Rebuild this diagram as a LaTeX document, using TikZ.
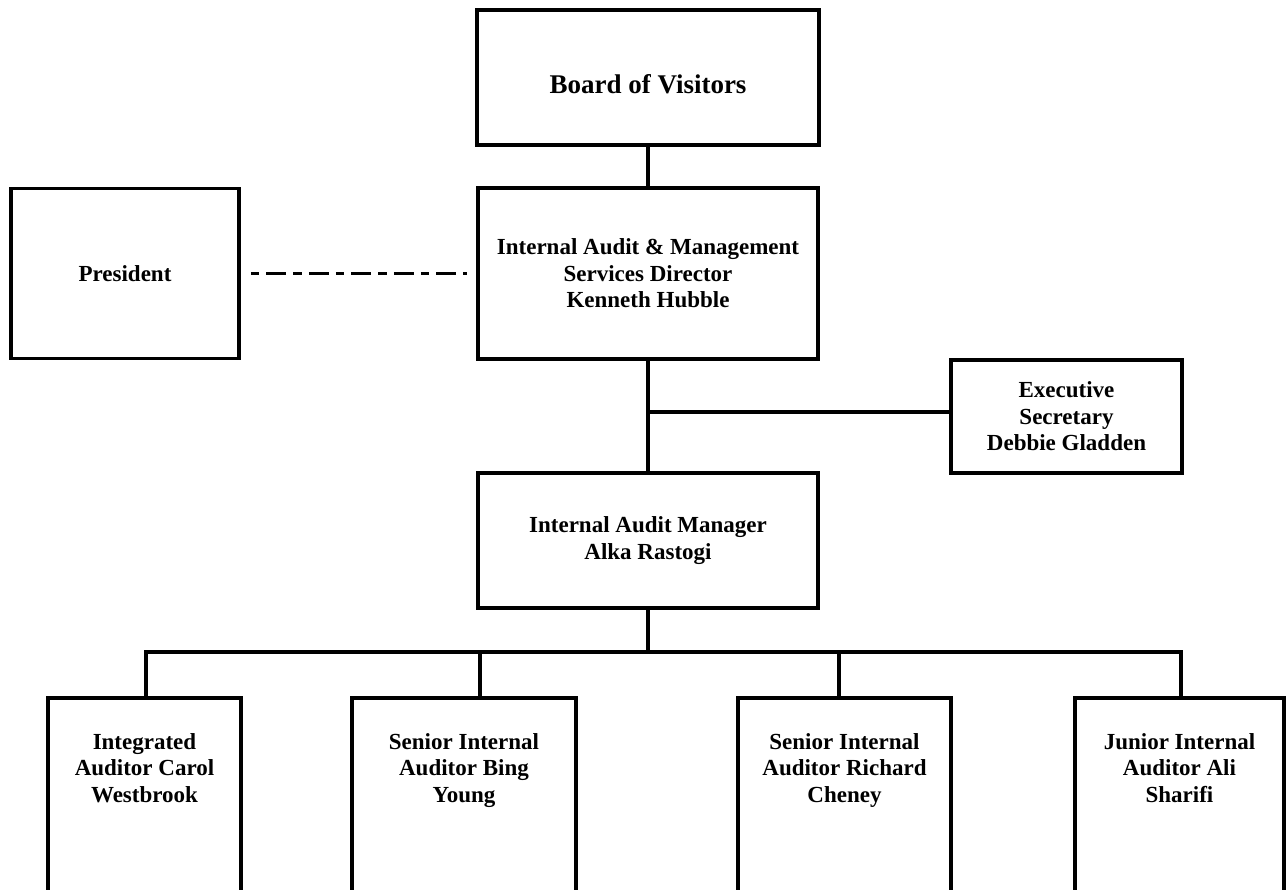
\documentclass[tikz,border=0pt]{standalone}
\usepackage{fontspec}
\setmainfont{Liberation Serif}
\usetikzlibrary{positioning,calc}
\tikzset{
  line/.style={line width=3.6pt},
  box/.style={draw,line width=3.6pt,align=center,inner sep=0pt},
  staff/.style={box,anchor=north,minimum height=260pt},
  stafftext/.style={align=center,inner sep=0pt,anchor=north,label distance=-37pt}
}

\begin{document}
\begin{tikzpicture}[x=1pt,y=-1pt,font=\bfseries\fontsize{23}{26.5}\selectfont]
  \useasboundingbox (0,0) rectangle (1286,890);
  \clip (0,0) rectangle (1286,890);

  % Board, director and the two side boxes
  \node[box,minimum width=342,minimum height=135,text height=32pt,text depth=0pt,font=\bfseries\fontsize{27}{30}\selectfont] (board) at (648,77.5) {Board of Visitors};
  \node[box,minimum width=340,minimum height=171] (director) at (648,273.5) {Internal Audit \& Management\\Services Director\\Kenneth Hubble};
  \node[box,minimum width=228,minimum height=170] (president) at (125,273.5) {President};
  \node[box,minimum width=231,minimum height=113] (secretary) at (1066.5,416.5) {Executive\\Secretary\\Debbie Gladden};
  \node[box,minimum width=340,minimum height=135] (manager) at (648,540.5) {Internal Audit Manager\\Alka Rastogi};

  % Auditors (boxes run off the bottom edge)
  \node[staff,minimum width=193,label={[stafftext]north:{Integrated\\Auditor Carol\\Westbrook}}] (carol) at (144.5,696) {};
  \node[staff,minimum width=224,label={[stafftext]north:{Senior Internal\\Auditor Bing\\Young}}] (bing) at (464,696) {};
  \node[staff,minimum width=213,label={[stafftext]north:{Senior Internal\\Auditor Richard\\Cheney}}] (richard) at (844.5,696) {};
  \node[staff,minimum width=209,label={[stafftext]north:{Junior Internal\\Auditor Ali\\Sharifi}}] (ali) at (1179.5,696) {};

  % Connectors
  \draw[line] (board) -- (director);
  \draw[line,dash pattern=on 8.5pt off 7pt on 20pt off 7pt,shorten <=10pt,shorten >=9pt] (president) -- (director);
  \draw[line] (director) -- (manager);
  \coordinate (tap) at (648,412);
  \draw[line] (tap) -- (tap -| secretary.west);

  \coordinate (bus) at (648,652);
  \foreach \i/\x in {1/146,2/480,3/839,4/1181}
    \coordinate (bus\i) at (\x,652);
  \draw[line] (manager) -- (bus);
  \draw[line] (bus1 |- carol.north) -- (bus1) -- (bus4) -- (bus4 |- ali.north);
  \draw[line] (bus2) -- (bus2 |- bing.north);
  \draw[line] (bus3) -- (bus3 |- richard.north);
\end{tikzpicture}
\end{document}
